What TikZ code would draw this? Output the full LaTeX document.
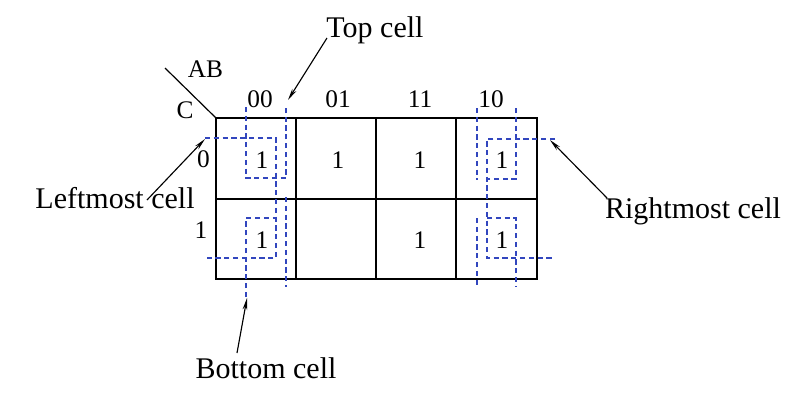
\documentclass[tikz,border=0pt]{standalone}
\usepackage{fontspec}
\setmainfont{Liberation Serif}
\usetikzlibrary{arrows.meta}
\definecolor{kblue}{RGB}{50,70,190}
\begin{document}
\begin{tikzpicture}[x=0.75pt,y=-0.75pt,
  grid/.style={line width=1.5pt,black},
  bluedash/.style={kblue,line width=1.1pt,dash pattern=on 3.9pt off 2.7pt},
  callout/.style={font=\fontsize{22.5}{25}\selectfont,anchor=base,inner sep=0pt},
  lbl/.style={font=\fontsize{19}{22}\selectfont,anchor=base,inner sep=0pt},
  pointer/.style={line width=0.85pt,-{Stealth[length=9pt,width=3.5pt]}}]
\useasboundingbox (0,0) rectangle (803,394);
% grid cells (named), drawn as one grid
\foreach \c/\x in {0/216,1/296,2/376,3/456}{
  \foreach \r/\y in {0/118,1/198}{
    \node[inner sep=0pt,minimum width=60pt,minimum height=60pt,anchor=north west] (cell\r\c) at (\x,\y) {};
  }
}
\draw[grid] (cell00.north west) rectangle (cell13.south east);
\draw[grid] (cell00.south west) -- (cell03.south east);
\draw[grid] (cell01.north west) -- (cell11.south west);
\draw[grid] (cell02.north west) -- (cell12.south west);
\draw[grid] (cell03.north west) -- (cell13.south west);
\coordinate (diagend) at (165,68);
\draw[line width=0.9pt] (diagend) -- (cell00.north west);
% labels
\node[lbl] (ab) at (205.5,77) {AB};
\node[lbl] (c) at (185,118) {C};
\node[lbl] (h00) at (260,107) {00};
\node[lbl] (h01) at (338,107) {01};
\node[lbl] (h11) at (420,107) {11};
\node[lbl] (h10) at (491,107) {10};
\node[lbl] (r0) at (203.5,167) {0};
\node[lbl] (r1) at (201,238) {1};
% cell ones
\node[lbl] (o00) at (262,168) {1};
\node[lbl] (o01) at (338,168) {1};
\node[lbl] (o11) at (420,168) {1};
\node[lbl] (o10) at (502,168) {1};
\node[lbl] (p00) at (262,248) {1};
\node[lbl] (p11) at (420,248) {1};
\node[lbl] (p10) at (502,248) {1};
% blue dashed outlines, left
\draw[bluedash] (246,107) -- (246,178) -- (286,178) -- (286,107);
\draw[bluedash] (205,138) -- (276,138) -- (276,258) -- (205,258);
\draw[bluedash] (246,297) -- (246,218) -- (276,218);
\draw[bluedash] (286,197) -- (286,287);
% blue dashed outlines, right
\draw[bluedash] (477,108) -- (477,180);
\draw[bluedash] (516,108) -- (516,179) -- (487,179);
\draw[bluedash] (555,139) -- (487,139) -- (487,258) -- (555,258);
\draw[bluedash] (487,218) -- (516,218) -- (516,287);
\draw[bluedash] (477,218) -- (477,287);
% callouts
\node[callout] (top) at (375,37) {Top cell};
\node[callout] (left) at (115,208) {Leftmost cell};
\node[callout] (right) at (693,218) {Rightmost cell};
\node[callout] (bottom) at (266,378) {Bottom cell};
\coordinate (toptip) at (288,100);
\coordinate (lefttip) at (205,139);
\coordinate (righttip) at (550,140);
\coordinate (bottomtip) at (247,298);
\coordinate (topstart) at (327,38);
\coordinate (leftstart) at (147,200);
\coordinate (rightstart) at (607,198);
\coordinate (bottomstart) at (237,353);
\draw[pointer] (topstart) -- (toptip);
\draw[pointer] (leftstart) -- (lefttip);
\draw[pointer] (rightstart) -- (righttip);
\draw[pointer] (bottomstart) -- (bottomtip);
\end{tikzpicture}
\end{document}
